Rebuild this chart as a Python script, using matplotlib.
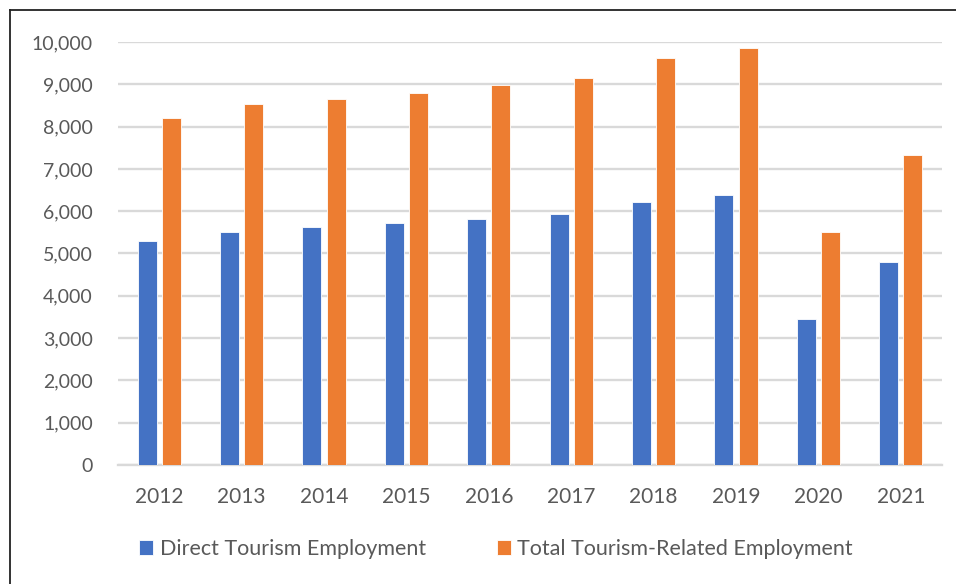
import matplotlib
matplotlib.use("Agg")
import matplotlib.pyplot as plt
import numpy as np
from matplotlib.lines import Line2D
from matplotlib.ticker import FuncFormatter

years = ["2012", "2013", "2014", "2015", "2016", "2017", "2018", "2019", "2020", "2021"]
direct = [5290, 5520, 5620, 5710, 5820, 5930, 6220, 6380, 3440, 4800]
total = [8200, 8530, 8645, 8800, 8980, 9160, 9610, 9850, 5500, 7340]
series_names = ["Direct Tourism Employment", "Total Tourism-Related Employment"]
yticks = list(range(0, 10001, 1000))

plt.rcParams['font.family'] = ['Lato', 'DejaVu Sans']
gray = "#595959"

fig = plt.figure(figsize=(9.56, 5.84), dpi=100)
ax = fig.add_axes([118/956, 1-465/584, (942-118)/956, (465-42)/584])

x = np.arange(len(years))
w = 0.23
off = 0.146
b1 = ax.bar(x - off, direct, w, color="#4472C4", edgecolor="white", linewidth=0.6, label=series_names[0], zorder=3)
b2 = ax.bar(x + off, total, w, color="#ED7D31", edgecolor="white", linewidth=0.6, label=series_names[1], zorder=3)

ax.set_xlim(-0.5, len(years) - 0.5)
ax.set_ylim(0, 10000)
ax.set_yticks(yticks)
ax.yaxis.set_major_formatter(FuncFormatter(lambda v, p: f"{int(v):,}"))
ax.set_xticks(x)
ax.set_xticklabels(years)
ax.grid(axis="y", color="#d9d9d9", linewidth=1.7, zorder=0)
ax.set_axisbelow(True)
for s in ["top", "right", "left"]:
    ax.spines[s].set_visible(False)
ax.spines["bottom"].set_color("#d9d9d9")
ax.spines["bottom"].set_linewidth(1.7)
ax.tick_params(axis="both", length=0, colors=gray)
ax.tick_params(axis="y", pad=18, labelsize=14)
ax.tick_params(axis="x", pad=16, labelsize=15)

fig.legend(handles=[b1, b2], labels=series_names, loc="center", bbox_to_anchor=(496/956, 1-549/584),
           ncol=2, frameon=False, fontsize=15.5, labelcolor=gray, handlelength=0.65, handleheight=0.7,
           handletextpad=0.3, columnspacing=3.3)

fig.add_artist(Line2D([10/956, 10/956], [0, 1-10/584], transform=fig.transFigure, color="#222222", lw=1.3))
fig.add_artist(Line2D([10/956, 1], [1-10/584, 1-10/584], transform=fig.transFigure, color="#222222", lw=1.3))

fig.savefig("out.png", dpi=100)
